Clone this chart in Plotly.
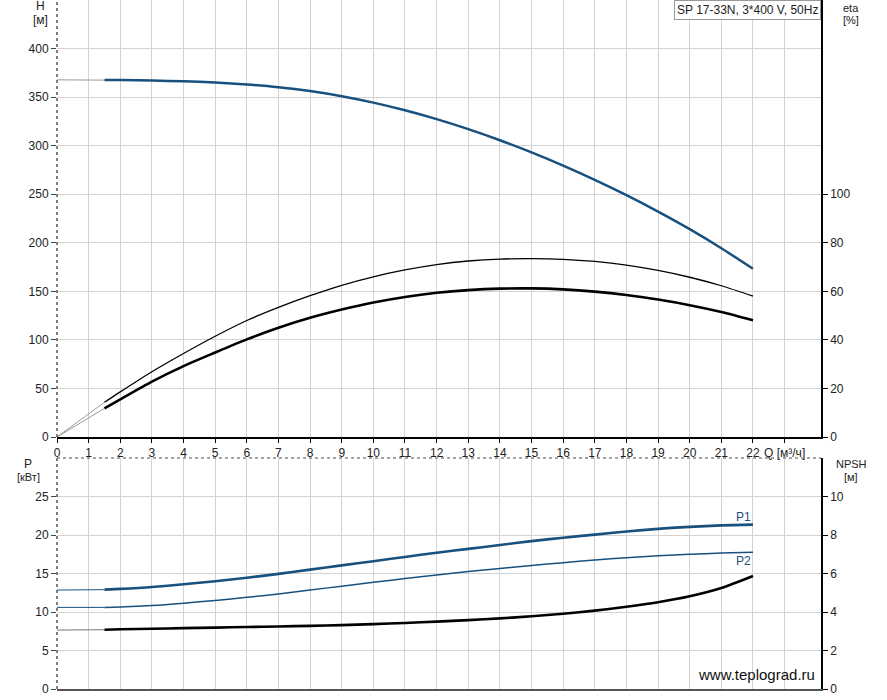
import plotly.graph_objects as go

# ---------------- data ----------------
q = [1.5, 2, 3, 4, 5, 6, 7, 8, 9, 10, 11, 12, 13, 14, 15, 16, 17, 18, 19, 20, 21, 22]
head = [367.5, 367.5, 367.0, 366.3, 365.0, 363.0, 360.2, 356.2, 350.9, 344.3, 336.4,
        327.3, 317.0, 305.6, 293.1, 279.5, 264.8, 249.0, 232.1, 214.0, 194.4, 173.2]
eta_pump = [14.3, 18.6, 26.9, 34.4, 41.5, 48.0, 53.4, 58.2, 62.5, 66.0, 68.8,
            71.0, 72.5, 73.3, 73.5, 73.2, 72.3, 70.8, 68.6, 65.8, 62.3, 58.0]
eta_total = [11.8, 15.5, 22.8, 29.2, 34.8, 40.2, 45.0, 49.1, 52.5, 55.4, 57.7,
             59.4, 60.5, 61.1, 61.2, 60.8, 59.9, 58.5, 56.6, 54.3, 51.5, 48.1]
p1 = [12.9, 13.0, 13.25, 13.6, 14.0, 14.45, 14.95, 15.5, 16.05, 16.6, 17.15,
      17.7, 18.2, 18.7, 19.2, 19.65, 20.05, 20.45, 20.8, 21.05, 21.25, 21.35]
p2 = [10.6, 10.65, 10.85, 11.15, 11.5, 11.9, 12.35, 12.85, 13.35, 13.85, 14.35,
      14.8, 15.25, 15.65, 16.05, 16.4, 16.75, 17.05, 17.3, 17.5, 17.65, 17.75]
npsh = [3.08, 3.1, 3.13, 3.16, 3.19, 3.22, 3.25, 3.28, 3.32, 3.37, 3.43,
        3.5, 3.58, 3.67, 3.78, 3.91, 4.07, 4.27, 4.51, 4.82, 5.25, 5.87]
# values at Q = 0 (thin lead-in segments)
head0, eta0, p1_0, p2_0, npsh0 = 367.8, 0.0, 12.85, 10.6, 3.06

x_ticks = list(range(0, 24))
x_ticktext = [str(v) for v in range(0, 23)] + ["Q [м³/ч]"]
h_ticks = [0, 50, 100, 150, 200, 250, 300, 350, 400]
eta_ticks = [0, 20, 40, 60, 80, 100]
p_ticks = [0, 5, 10, 15, 20, 25]
npsh_ticks = [0, 2, 4, 6, 8, 10]

BLUE = "#18507e"
GRID = "#d3d3d3"
FONT = "Arial, Liberation Sans, sans-serif"

fig = go.Figure()

def lead(x0, y0, x1, y1, xa, ya, color="#9a9a9a"):
    fig.add_trace(go.Scatter(x=[x0, x1], y=[y0, y1], mode="lines", xaxis=xa, yaxis=ya,
                             line=dict(color=color, width=1), showlegend=False, hoverinfo="skip"))

# top plot
lead(0, head0, q[0], head[0], "x", "y")
lead(0, eta0, q[0], eta_pump[0], "x", "y2")
lead(0, eta0, q[0], eta_total[0], "x", "y2")
fig.add_trace(go.Scatter(x=q, y=head, mode="lines", xaxis="x", yaxis="y",
                         line=dict(color=BLUE, width=2.5, shape="spline", smoothing=0.8), showlegend=False))
fig.add_trace(go.Scatter(x=q, y=eta_pump, mode="lines", xaxis="x", yaxis="y2",
                         line=dict(color="black", width=1.3, shape="spline", smoothing=0.8), showlegend=False))
fig.add_trace(go.Scatter(x=q, y=eta_total, mode="lines", xaxis="x", yaxis="y2",
                         line=dict(color="black", width=2.6, shape="spline", smoothing=0.8), showlegend=False))

# bottom plot
lead(0, p1_0, q[0], p1[0], "x2", "y3", BLUE)
lead(0, p2_0, q[0], p2[0], "x2", "y3", BLUE)
lead(0, npsh0, q[0], npsh[0], "x2", "y4", "#777777")
fig.add_trace(go.Scatter(x=q, y=p1, mode="lines", xaxis="x2", yaxis="y3",
                         line=dict(color=BLUE, width=2.6, shape="spline", smoothing=0.8), showlegend=False))
fig.add_trace(go.Scatter(x=q, y=p2, mode="lines", xaxis="x2", yaxis="y3",
                         line=dict(color=BLUE, width=1.5, shape="spline", smoothing=0.8), showlegend=False))
fig.add_trace(go.Scatter(x=q, y=npsh, mode="lines", xaxis="x2", yaxis="y4",
                         line=dict(color="black", width=2.6, shape="spline", smoothing=0.8), showlegend=False))

H_PX = 689.0
def py(ypix):
    return (H_PX - ypix) / H_PX

top_dom = [py(437), 1.0]
bot_dom = [0.0, py(458)]
XR = [0, 24.15]
tickfont = dict(family=FONT, size=12, color="#222")

fig.update_layout(
    width=887, height=700,
    margin=dict(l=57, r=66, t=0, b=11, autoexpand=False),
    paper_bgcolor="white", plot_bgcolor="white",
    font=dict(family=FONT, size=12, color="#222"),
    xaxis=dict(domain=[0, 1], range=XR, anchor="y", tickvals=x_ticks, ticktext=x_ticktext,
               showgrid=True, gridcolor=GRID, gridwidth=1, zeroline=False, automargin=False,
               showline=True, linecolor="black", linewidth=1.5,
               ticks="outside", ticklen=4, tickcolor="black", tickfont=tickfont),
    yaxis=dict(domain=top_dom, range=[0, 450], tickvals=h_ticks, anchor="x", automargin=False,
               showgrid=True, gridcolor=GRID, zeroline=False, showline=False,
               ticks="outside", ticklen=5, tickcolor="#444", tickfont=tickfont),
    yaxis2=dict(range=[0, 180], tickvals=eta_ticks, overlaying="y", side="right", anchor="x",
                showgrid=False, zeroline=False, showline=True, linecolor="black", linewidth=1.5,
                automargin=False,
                ticks="outside", ticklen=5, tickcolor="black", tickfont=tickfont),
    xaxis2=dict(domain=[0, 1], range=XR, anchor="y3", tickvals=x_ticks, showticklabels=False,
                showgrid=True, gridcolor=GRID, zeroline=False, automargin=False,
                showline=True, linecolor="#555", linewidth=1.5, ticks=""),
    yaxis3=dict(domain=bot_dom, range=[0, 30], tickvals=p_ticks, anchor="x2", automargin=False,
                showgrid=True, gridcolor=GRID, zeroline=False, showline=False,
                ticks="outside", ticklen=5, tickcolor="#444", tickfont=tickfont),
    yaxis4=dict(range=[0, 12], tickvals=npsh_ticks, overlaying="y3", side="right", anchor="x2",
                showgrid=False, zeroline=False, showline=True, linecolor="black", linewidth=1.5,
                automargin=False,
                ticks="outside", ticklen=5, tickcolor="black", tickfont=tickfont),
)

# dotted left borders and top border of lower plot
fig.add_shape(type="line", xref="paper", yref="paper", x0=0, x1=0, y0=top_dom[0], y1=1,
              line=dict(color="#555", width=1.5, dash="dot"))
fig.add_shape(type="line", xref="paper", yref="paper", x0=0, x1=0, y0=0, y1=bot_dom[1],
              line=dict(color="#555", width=1.5, dash="dot"))
fig.add_shape(type="line", xref="paper", yref="paper", x0=0, x1=1, y0=bot_dom[1], y1=bot_dom[1],
              line=dict(color="#888", width=1.5, dash="dot"))

W = 764.0
def px(xpix):
    return (xpix - 57) / W

def ann(text, xpix, ypix, size=11, color="#222", xanchor="center", **kw):
    fig.add_annotation(text=text, x=px(xpix), y=py(ypix), xref="paper", yref="paper",
                       showarrow=False, xanchor=xanchor, yanchor="middle",
                       font=dict(family=FONT, size=size, color=color), **kw)

ann("H", 40, 6, size=12)
ann("[м]", 40, 20, size=12)
ann("eta", 851, 8)
ann("[%]", 851, 20)
ann("P", 28, 464, size=12)
ann("[кВт]", 28, 477)
ann("NPSH", 851, 464)
ann("[м]", 851, 477)
ann("P1", 743, 517, size=12, color=BLUE)
ann("P2", 743, 561, size=12, color=BLUE)
ann("www.teplograd.ru", 817, 674, size=15, color="#111", xanchor="right")

fig.add_annotation(text="SP 17-33N, 3*400 V, 50Hz", x=px(821), y=1.0, xref="paper", yref="paper",
                   showarrow=False, xanchor="right", yanchor="top",
                   font=dict(family=FONT, size=12, color="#222"),
                   bgcolor="white", bordercolor="#999", borderwidth=1, borderpad=2)

fig.write_html("out.html",
               config={"displayModeBar": False},
               post_script="document.body.style.margin='0';document.body.style.overflow='hidden';")
